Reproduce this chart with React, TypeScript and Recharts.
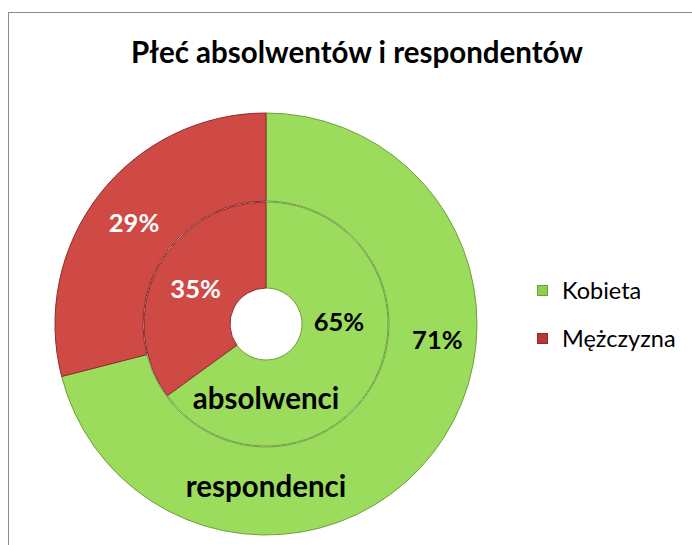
import React from 'react';
import { PieChart, Pie, Cell, Legend } from 'recharts';

const categories = ['Kobieta', 'Mężczyzna'];
const absolwenci = [65, 35];
const respondenci = [71, 29];
const ringNames = ['absolwenci', 'respondenci'];

const FILL = ['#9cdc5c', '#d04a45'];
const EDGE = ['#6f9e3f', '#8a2c2a'];
const LEGEND_FILL = ['#8fcf4e', '#b83735'];
const LABEL_COLOR = ['#000000', '#ffffff'];
const FONT = 'Lato, "Open Sans", sans-serif';
const RAD = Math.PI / 180;

const innerData = categories.map((name, i) => ({ name, value: absolwenci[i] }));
const outerData = categories.map((name, i) => ({ name, value: respondenci[i] }));

// Excel had the green labels dragged off the slice centre; keep that
function makeLabel(ring: string, greenAngle: number, greenRadius: number) {
  return (props: any) => {
    const { cx, cy, midAngle, innerRadius, outerRadius, value, index } = props;
    const mid = (innerRadius + outerRadius) / 2;
    const angle = index === 0 ? greenAngle : midAngle;
    const r = index === 0 ? greenRadius : mid;
    const x = cx + r * Math.cos(-angle * RAD);
    const y = cy + r * Math.sin(-angle * RAD);
    return (
      <g>
        <text
          x={x}
          y={y}
          fill={LABEL_COLOR[index]}
          textAnchor="middle"
          dominantBaseline="central"
          fontFamily={FONT}
          fontWeight={700}
          fontSize={25.5}
        >
          {`${value}%`}
        </text>
        {index === 0 && (
          <text
            x={cx}
            y={cy + mid - 6}
            fill="#000"
            textAnchor="middle"
            dominantBaseline="central"
            fontFamily={FONT}
            fontWeight={700}
            fontSize={29.5}
          >
            {ring}
          </text>
        )}
      </g>
    );
  };
}

const renderLegend = () => (
  <ul style={{ listStyle: 'none', margin: 0, padding: 0 }}>
    {categories.map((c, i) => (
      <li
        key={c}
        style={{ display: 'flex', alignItems: 'center', height: 48, fontFamily: FONT, fontSize: 23.5, color: '#000' }}
      >
        <span
          style={{
            display: 'inline-block',
            width: 9,
            height: 9,
            background: LEGEND_FILL[i],
            border: `1px solid ${EDGE[i]}`,
            marginRight: 14,
          }}
        />
        {c}
      </li>
    ))}
  </ul>
);

export default function App() {
  return (
    <div style={{ position: 'absolute', left: 0, top: 0, width: 692, height: 545, overflow: 'hidden', background: '#fff' }}>
      <div
        style={{
          position: 'absolute',
          left: 8,
          top: 12,
          width: 800,
          height: 700,
          border: '1px solid #8c8c8c',
        }}
      />
      <div
        style={{
          position: 'absolute',
          left: 0,
          top: 34,
          width: 714,
          textAlign: 'center',
          fontFamily: FONT,
          fontWeight: 700,
          fontSize: 29.5,
          color: '#000',
        }}
      >
        Płeć absolwentów i respondentów
      </div>
      <div style={{ position: 'absolute', left: 0, top: 0 }}>
        <PieChart width={692} height={545} margin={{ top: 0, right: 0, bottom: 0, left: 0 }}>
          <Pie
            data={outerData}
            dataKey="value"
            nameKey="name"
            cx={266}
            cy={324}
            innerRadius={123}
            outerRadius={211}
            startAngle={90}
            endAngle={-270}
            labelLine={false}
            label={makeLabel(ringNames[1], -5, 172)}
            isAnimationActive={false}
          >
            {outerData.map((d, i) => (
              <Cell key={d.name} fill={FILL[i]} stroke={EDGE[i]} strokeWidth={1} />
            ))}
          </Pie>
          <Pie
            data={innerData}
            dataKey="value"
            nameKey="name"
            cx={266}
            cy={324}
            innerRadius={36}
            outerRadius={122}
            startAngle={90}
            endAngle={-270}
            labelLine={false}
            label={makeLabel(ringNames[0], 2, 73)}
            isAnimationActive={false}
          >
            {innerData.map((d, i) => (
              <Cell key={d.name} fill={FILL[i]} stroke={EDGE[i]} strokeWidth={1} />
            ))}
          </Pie>
          <Legend
            layout="vertical"
            align="right"
            verticalAlign="middle"
            content={renderLegend}
            wrapperStyle={{ left: 537, top: 266, width: 150 }}
          />
        </PieChart>
      </div>
    </div>
  );
}
